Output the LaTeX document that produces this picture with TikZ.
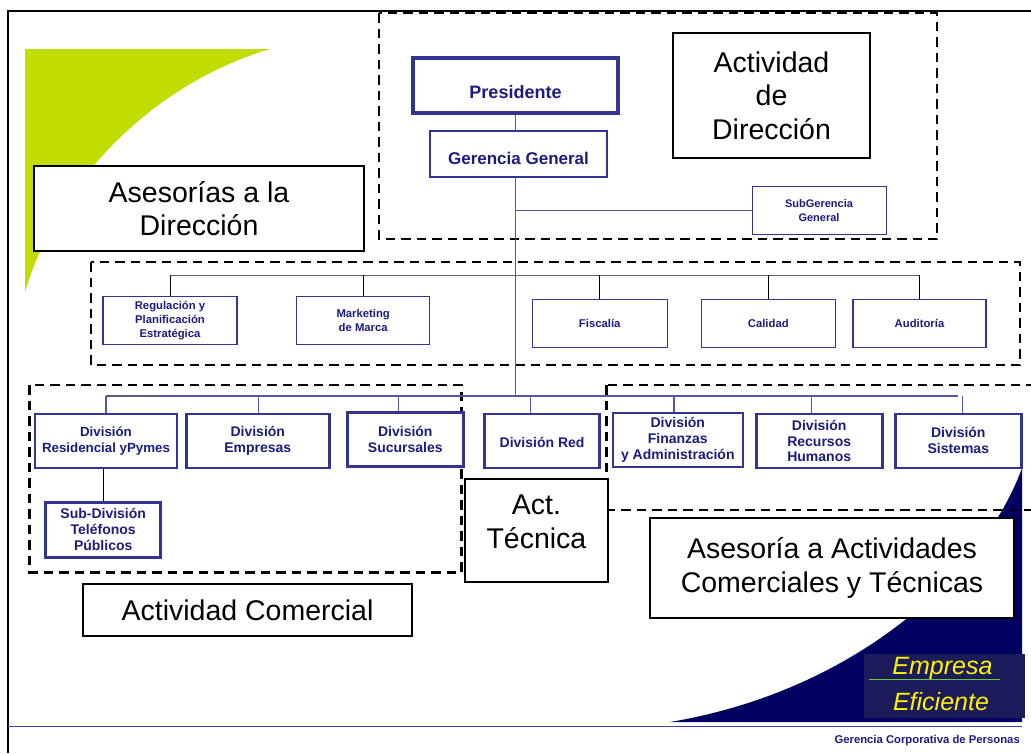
\documentclass[tikz,border=0pt]{standalone}
\usepackage{fontspec}
\setmainfont{Liberation Sans}
\definecolor{navytext}{RGB}{28,28,128}
\definecolor{boxblue}{RGB}{51,51,150}
\definecolor{linkblue}{RGB}{85,85,170}
\definecolor{lime}{RGB}{192,220,0}
\definecolor{navybg}{RGB}{0,0,96}
\definecolor{navybox}{RGB}{28,28,90}
\definecolor{footblue}{RGB}{64,64,176}
\definecolor{effgreen}{RGB}{102,204,51}
\definecolor{busgray}{RGB}{100,100,100}
\tikzset{
  orgA/.style={draw=boxblue, fill=white, inner sep=0pt, align=center, text=navytext,
    font=\bfseries\fontsize{11.3}{14}\selectfont, line width=1.2pt, minimum height=48},
  orgD/.style={draw=boxblue, fill=white, inner sep=0pt, align=center, text=navytext,
    font=\bfseries\fontsize{14}{15.8}\selectfont, line width=2.6pt, minimum height=54},
  lbl/.style={draw=black, fill=white, line width=2pt, inner sep=0pt, align=center,
    font=\fontsize{28.5}{33.5}\selectfont},
  grp/.style={draw=black, line width=2.7pt, dash pattern=on 9.5pt off 6pt},
  busA/.style={draw=busgray, line width=1pt},
  dropA/.style={draw=black, line width=1pt},
  busD/.style={draw=linkblue, line width=1.3pt},
  efftext/.style={text=yellow, font=\itshape\fontsize{25}{30}\selectfont, inner sep=0pt, anchor=base},
}
\begin{document}
\begin{tikzpicture}[x=1pt,y=-1pt]
\useasboundingbox (0,0) rectangle (1031,753);
\fill[white] (0,0) rectangle (1031,753);
% background decorations
\fill[lime] (25,49) -- (270,49) .. controls (165,80) and (62,168) .. (25,292) -- cycle;
\fill[navybg] (1022,468) .. controls (985,570) and (860,690) .. (670,722) -- (1022,722) -- cycle;
% frame and footer rule
\draw[line width=2pt] (8,753) -- (8,11) -- (1031,11);
\draw[footblue, line width=1.5pt] (8,726.5) -- (1022,726.5);
% dashed groups
\draw[grp] (379,13) rectangle (937,239);
\draw[grp] (91,262) rectangle (1020,365);
\draw[grp] (29.7,385) rectangle (461.8,572.3);
\draw[grp] (606.7,385) rectangle (1045,510);
% org boxes
\node[draw=boxblue, fill=white, line width=4pt, inner sep=0pt, minimum width=205, minimum height=55,
      text height=25pt, text depth=0pt,
      text=navytext, font=\bfseries\fontsize{18}{20}\selectfont] (pres) at (515.5,85.5) {Presidente};
\node[draw=boxblue, fill=white, line width=2pt, inner sep=0pt, minimum width=177, minimum height=46,
      text height=20pt, text depth=0pt,
      text=navytext, font=\bfseries\fontsize{17}{20}\selectfont] (gg) at (518.5,154) {Gerencia General};
\node[draw=boxblue, fill=white, line width=1pt, inner sep=0pt, minimum width=134, minimum height=48, align=center,
      text=navytext, font=\bfseries\fontsize{11}{13.4}\selectfont] (subg) at (819,210.5) {SubGerencia\\General};
\coordinate (abus) at (515.5,275);
\coordinate (dbus) at (515.5,396);
% connectors (drawn before boxes)
\draw[linkblue, line width=1pt] (pres.south) -- (pres.south |- gg.north);
\draw[busD] (pres.south |- gg.south) -- (dbus);
\draw[linkblue, line width=1pt] (pres.south |- subg.west) -- (subg.west);
% asesoria row
\node[orgA, minimum width=134, minimum height=48] (reg) at (170,320.4) {Regulación y\\Planificación\\Estratégica};
\node[orgA, minimum width=133] (mkt) at (363.2,320.4) {Marketing\\de Marca};
\node[orgA, minimum width=135] (fis) at (599.7,323.4) {Fiscalía};
\node[orgA, minimum width=134] (cal) at (768.3,323.4) {Calidad};
\node[orgA, minimum width=133] (aud) at (919.5,323.4) {Auditoría};
\draw[busA] (reg.north |- abus) -- (aud.north |- abus);
\foreach \n in {reg,mkt,fis,cal,aud} { \draw[dropA] (\n.north |- abus) -- (\n.north); }
% division row
\node[orgD, minimum width=142, font=\bfseries\fontsize{13.3}{15.8}\selectfont] (res) at (106,440.8) {División\\Residencial yPymes};
\node[orgD, minimum width=143] (emp) at (257.8,440.8) {División\\Empresas};
\node[orgD, minimum width=116] (suc) at (405.3,439.5) {División\\Sucursales};
\node[orgD, minimum width=115, text height=14pt, text depth=0pt] (red) at (542.1,440.8) {División Red};
\node[orgD, minimum width=130] (fin) at (677.8,440) {División\\Finanzas\\y Administración};
\node[orgD, minimum width=126] (rrhh) at (819.2,441) {División\\Recursos\\Humanos};
\node[orgD, minimum width=126] (sis) at (958.3,440.8) {División\\Sistemas};
\node[orgD, minimum width=115, minimum height=55] (subdiv) at (103.2,529.7) {Sub-División\\Teléfonos\\Públicos};
\draw[busD] (res.north |- dbus) -- (sis.north |- dbus);
\draw[busA] (res.north |- dbus) ++(4pt,-0.8pt) -- ++(51pt,0);
\draw[busD] (res.north |- dbus) -- (res.north);
\draw[busD] ([xshift=1pt]emp.north |- dbus) -- ([xshift=1pt]emp.north);
\draw[busD] ([xshift=-6.7pt]suc.north |- dbus) -- ([xshift=-6.7pt]suc.north);
\draw[busD] ([xshift=-11.5pt]red.north |- dbus) -- ([xshift=-11.5pt]red.north);
\draw[busD] ([xshift=-3.8pt]fin.north |- dbus) -- ([xshift=-3.8pt]fin.north);
\draw[busD] ([xshift=-7.5pt]rrhh.north |- dbus) -- ([xshift=-7.5pt]rrhh.north);
\draw[busD] ([xshift=4pt]sis.north |- dbus) -- ([xshift=4pt]sis.north);
\draw[dropA] (subdiv.north |- res.south) -- (subdiv.north);
% label boxes
\node[lbl, minimum width=197, minimum height=125] (actdir) at (771.5,95.5) {Actividad\\de\\Dirección};
\node[lbl, minimum width=330, minimum height=85] (ases) at (199,208.5) {Asesorías a la\\Dirección};
\node[lbl, minimum width=143, minimum height=103, text depth=17pt] (acttec) at (536.4,530) {Act.\\Técnica};
\node[lbl, minimum width=329, minimum height=52] (actcom) at (247.5,610) {Actividad Comercial};
\node[lbl, minimum width=364, minimum height=100] (asact) at (832,568) {Asesoría a Actividades\\Comerciales y Técnicas};
% Empresa Eficiente
\node[fill=navybox, inner sep=0pt, minimum width=161, minimum height=64] (eff) at (944.5,686) {};
\node[efftext] (empresa) at (942.5,674) {Empresa};
\node[efftext] (eficiente) at (941,710) {Eficiente};
\draw[effgreen, line width=1.2pt] (869,679.5) -- (1000,679.5);
% footer
\node[anchor=base east, inner sep=0pt, text=navytext, font=\bfseries\fontsize{11.3}{13}\selectfont] (foot) at (1020,743.5) {Gerencia Corporativa de Personas};
\end{tikzpicture}
\end{document}
